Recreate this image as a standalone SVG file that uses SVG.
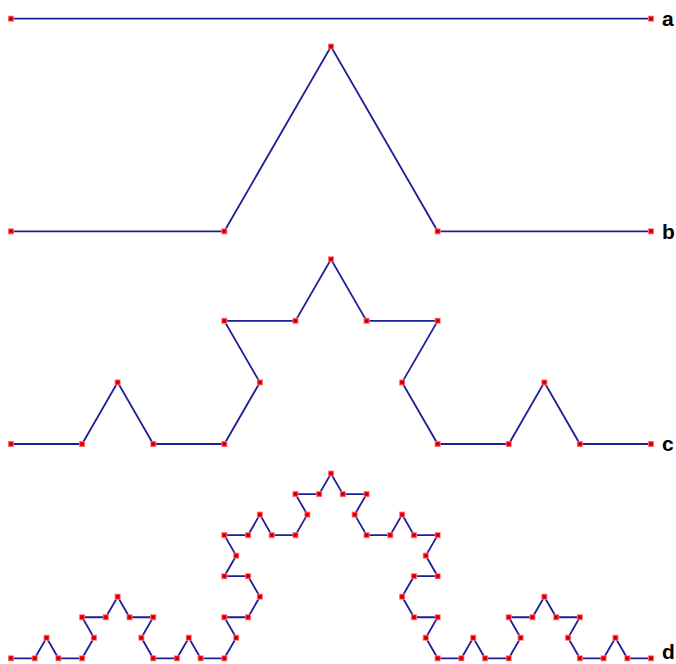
<svg xmlns="http://www.w3.org/2000/svg" width="676" height="664" viewBox="0 0 676 664">
<style>
.curve{fill:none;stroke:#1e1e98;stroke-width:1.8;stroke-linejoin:miter;marker-start:url(#pt);marker-mid:url(#pt);marker-end:url(#pt)}
.lbl{font-family:"Liberation Sans",Arial,sans-serif;font-weight:bold;font-size:21px;fill:#000}
</style>
<defs>
<marker id="pt" markerUnits="userSpaceOnUse" markerWidth="8" markerHeight="8" refX="4" refY="4" overflow="visible">
<rect x="1" y="1" width="6" height="6" fill="#ff8080"/>
<rect x="1.8" y="1.8" width="4.4" height="4.4" fill="#ff0000"/>
<rect x="3.2" y="3.2" width="1.6" height="1.6" fill="#600040"/>
</marker>
</defs>
<rect width="676" height="664" fill="#fff"/>
<g id="connectors">
<polyline id="curve-a" class="curve" points="11,18.7 651,18.7"/>
<polyline id="curve-b" class="curve" points="11,231.3 224.33,231.3 331,46.55 437.67,231.3 651,231.3"/>
<polyline id="curve-c" class="curve" points="11,444 82.11,444 117.67,382.42 153.22,444 224.33,444 259.89,382.42 224.33,320.83 295.44,320.83 331,259.25 366.56,320.83 437.67,320.83 402.11,382.42 437.67,444 508.78,444 544.33,382.42 579.89,444 651,444"/>
<polyline id="curve-d" class="curve" points="11,658.3 34.7,658.3 46.56,637.77 58.41,658.3 82.11,658.3 93.96,637.77 82.11,617.24 105.81,617.24 117.67,596.72 129.52,617.24 153.22,617.24 141.37,637.77 153.22,658.3 176.93,658.3 188.78,637.77 200.63,658.3 224.33,658.3 236.19,637.77 224.33,617.24 248.04,617.24 259.89,596.72 248.04,576.19 224.33,576.19 236.19,555.66 224.33,535.13 248.04,535.13 259.89,514.6 271.74,535.13 295.44,535.13 307.3,514.6 295.44,494.08 319.15,494.08 331,473.55 342.85,494.08 366.56,494.08 354.7,514.6 366.56,535.13 390.26,535.13 402.11,514.6 413.96,535.13 437.67,535.13 425.81,555.66 437.67,576.19 413.96,576.19 402.11,596.72 413.96,617.24 437.67,617.24 425.81,637.77 437.67,658.3 461.37,658.3 473.22,637.77 485.07,658.3 508.78,658.3 520.63,637.77 508.78,617.24 532.48,617.24 544.33,596.72 556.19,617.24 579.89,617.24 568.04,637.77 579.89,658.3 603.59,658.3 615.44,637.77 627.3,658.3 651,658.3"/>
</g>
<g id="label-a"><text class="lbl" x="662" y="26">a</text></g>
<g id="label-b"><text class="lbl" x="662" y="238.5">b</text></g>
<g id="label-c"><text class="lbl" x="662" y="451">c</text></g>
<g id="label-d"><text class="lbl" x="662" y="659">d</text></g>
</svg>
